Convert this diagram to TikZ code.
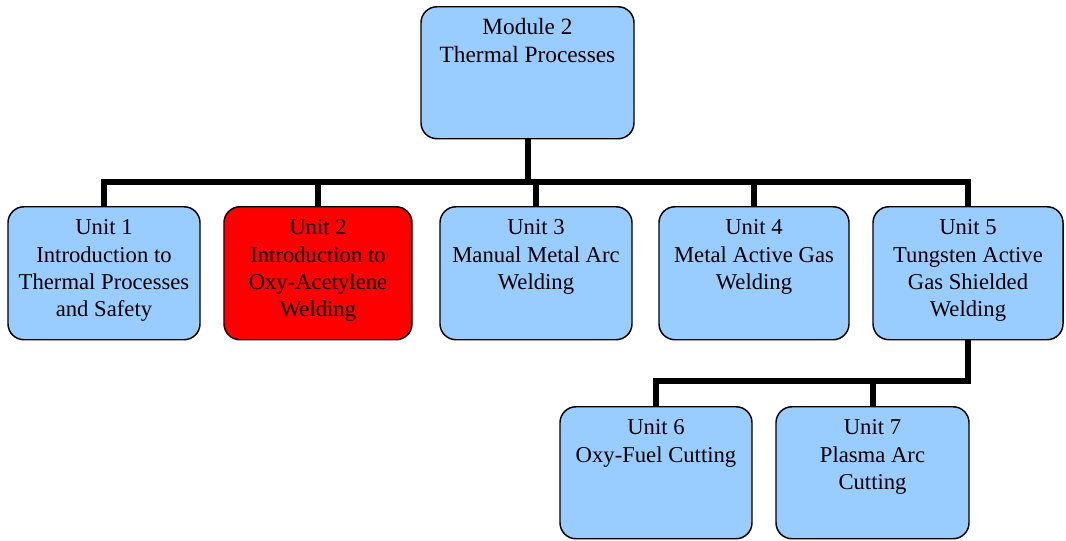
\documentclass[tikz,border=0pt]{standalone}
\usepackage{fontspec}
\setmainfont{Liberation Serif}
\definecolor{boxblue}{HTML}{99CCFF}
\definecolor{boxred}{HTML}{FF0000}
\newcommand{\bxt}[4]{\begin{minipage}[t][#2][t]{#1}\centering\fontsize{#4}{20.5}\selectfont\rule{0pt}{21pt}#3\end{minipage}}
\begin{document}
\begin{tikzpicture}[x=0.75pt,y=-0.75pt,
  unitbox/.style={draw=black, line width=1.1pt, rounded corners=12pt, fill=boxblue, inner sep=0pt, anchor=north},
  conn/.style={line width=4.5pt, black}]
\useasboundingbox (0,0) rectangle (1066,540);
\node[unitbox] (top) at (527.5,6) {\bxt{159.75pt}{99pt}{Module 2\\Thermal Processes}{17.5}};
\node[unitbox] (u1) at (104,206) {\bxt{144pt}{99.75pt}{Unit 1\\Introduction to\\Thermal Processes\\and Safety}{17}};
\node[unitbox, fill=boxred] (u2) at (318,206) {\bxt{141pt}{99.75pt}{Unit 2\\Introduction to\\Oxy-Acetylene\\Welding}{17}};
\node[unitbox] (u3) at (536,206) {\bxt{144pt}{99.75pt}{Unit 3\\Manual Metal Arc\\Welding}{17}};
\node[unitbox] (u4) at (754,206) {\bxt{142.5pt}{99.75pt}{Unit 4\\Metal Active Gas\\Welding}{17}};
\node[unitbox] (u5) at (968,206) {\bxt{142.5pt}{99.75pt}{Unit 5\\Tungsten Active\\Gas Shielded\\Welding}{17}};
\node[unitbox] (u6) at (656,406) {\bxt{144pt}{99pt}{Unit 6\\Oxy-Fuel Cutting}{17}};
\node[unitbox] (u7) at (872.5,406) {\bxt{144.75pt}{99pt}{Unit 7\\Plasma Arc\\Cutting}{17}};
\coordinate (bar) at (528,182);
\coordinate (bar2) at (656,381);
\draw[conn] (top.south) -- (top.south |- bar);
\draw[conn] (u1.north) |- (u5.north |- bar) -- (u5.north);
\draw[conn] (u2.north) -- (u2.north |- bar);
\draw[conn] (u3.north) -- (u3.north |- bar);
\draw[conn] (u4.north) -- (u4.north |- bar);
\draw[conn] (u5.south) |- (u6.north |- bar2) -- (u6.north);
\draw[conn] (u7.north) -- (u7.north |- bar2);
\end{tikzpicture}
\end{document}
